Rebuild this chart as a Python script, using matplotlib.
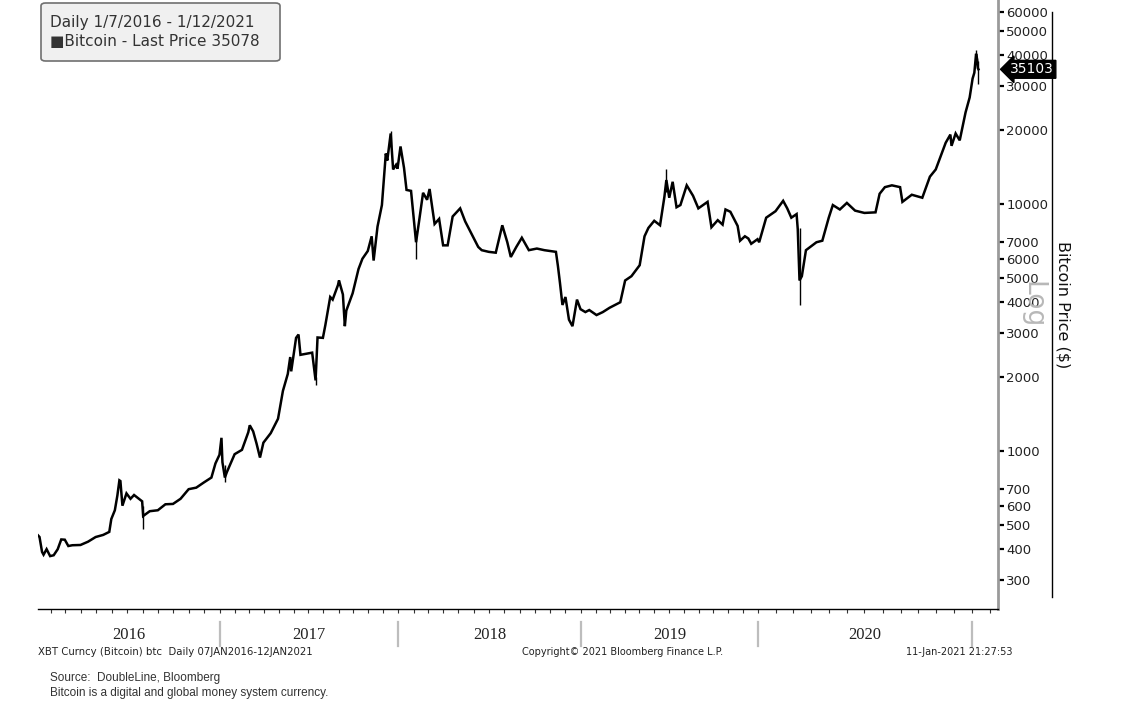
import matplotlib
matplotlib.use("Agg")
import matplotlib.pyplot as plt
import matplotlib.dates as mdates
import matplotlib.transforms as mtrans
from matplotlib.lines import Line2D
from matplotlib.patches import FancyBboxPatch
import numpy as np

# Bitcoin closes (roughly semi-monthly, more around big moves)
dates = [
    "2016-01-07", "2016-01-10", "2016-01-15", "2016-01-18", "2016-01-24", "2016-01-31",
    "2016-02-07", "2016-02-15", "2016-02-22", "2016-02-29", "2016-03-07", "2016-03-15",
    "2016-03-31", "2016-04-15", "2016-04-30", "2016-05-15", "2016-05-27", "2016-05-31",
    "2016-06-07", "2016-06-12", "2016-06-16", "2016-06-18", "2016-06-22", "2016-06-30",
    "2016-07-08", "2016-07-15", "2016-07-31", "2016-08-02", "2016-08-15", "2016-08-31",
    "2016-09-15", "2016-09-30", "2016-10-15", "2016-10-31", "2016-11-15", "2016-11-30",
    "2016-12-15", "2016-12-23", "2016-12-31",
    "2017-01-04", "2017-01-06", "2017-01-11", "2017-01-15", "2017-01-31", "2017-02-15",
    "2017-02-28", "2017-03-03", "2017-03-10", "2017-03-17", "2017-03-24", "2017-03-31",
    "2017-04-15", "2017-04-30", "2017-05-10", "2017-05-20", "2017-05-25", "2017-05-27",
    "2017-06-06", "2017-06-11", "2017-06-15", "2017-06-30", "2017-07-09", "2017-07-16",
    "2017-07-20", "2017-07-31", "2017-08-05", "2017-08-15", "2017-08-20", "2017-08-31",
    "2017-09-02", "2017-09-10", "2017-09-14", "2017-09-17", "2017-09-30", "2017-10-12",
    "2017-10-20", "2017-10-31", "2017-11-08", "2017-11-12", "2017-11-20", "2017-11-29",
    "2017-12-07", "2017-12-10", "2017-12-17", "2017-12-22", "2017-12-28", "2017-12-31",
    "2018-01-06", "2018-01-13", "2018-01-18", "2018-01-27", "2018-02-06", "2018-02-12",
    "2018-02-20", "2018-02-28", "2018-03-05", "2018-03-15", "2018-03-24", "2018-04-01",
    "2018-04-10", "2018-04-20", "2018-05-05", "2018-05-15", "2018-05-30", "2018-06-10",
    "2018-06-17", "2018-07-01", "2018-07-15", "2018-07-28", "2018-08-07", "2018-08-14",
    "2018-08-25", "2018-09-05", "2018-09-19", "2018-10-05", "2018-10-20", "2018-11-12",
    "2018-11-16", "2018-11-20", "2018-11-25", "2018-12-01", "2018-12-08", "2018-12-15",
    "2018-12-24", "2018-12-31",
    "2019-01-10", "2019-01-18", "2019-02-02", "2019-02-15", "2019-03-01", "2019-03-23",
    "2019-04-02", "2019-04-15", "2019-05-02", "2019-05-12", "2019-05-20", "2019-06-01",
    "2019-06-13", "2019-06-22", "2019-06-26", "2019-07-02", "2019-07-09", "2019-07-17",
    "2019-07-25", "2019-08-07", "2019-08-20", "2019-08-31", "2019-09-19", "2019-09-27",
    "2019-10-10", "2019-10-20", "2019-10-26", "2019-11-05", "2019-11-20", "2019-11-25",
    "2019-12-05", "2019-12-12", "2019-12-18", "2019-12-31",
    "2020-01-03", "2020-01-15", "2020-01-31", "2020-02-13", "2020-02-20", "2020-02-27",
    "2020-03-07", "2020-03-09", "2020-03-12", "2020-03-16", "2020-03-23", "2020-04-10",
    "2020-04-20", "2020-05-01", "2020-05-08", "2020-05-20", "2020-06-01", "2020-06-15",
    "2020-07-01", "2020-07-20", "2020-07-27", "2020-08-05", "2020-08-17", "2020-08-31",
    "2020-09-04", "2020-09-20", "2020-10-08", "2020-10-21", "2020-10-31", "2020-11-08",
    "2020-11-17", "2020-11-25", "2020-11-27", "2020-12-04", "2020-12-11", "2020-12-16",
    "2020-12-21", "2020-12-28", "2021-01-02", "2021-01-05", "2021-01-08", "2021-01-10",
    "2021-01-11", "2021-01-12",
]
closes = [
    455, 448, 390, 380, 400, 375,
    378, 400, 438, 437, 412, 415,
    416, 429, 448, 457, 470, 530,
    575, 660, 760, 755, 600, 673,
    640, 663, 625, 545, 570, 575,
    608, 610, 640, 700, 710, 745,
    780, 890, 965,
    1130, 900, 780, 820, 970, 1010,
    1190, 1270, 1200, 1070, 940, 1080,
    1180, 1350, 1750, 2050, 2400, 2100,
    2870, 2960, 2450, 2480, 2500, 1930,
    2880, 2870, 3230, 4200, 4100, 4700,
    4900, 4300, 3200, 3700, 4350, 5450,
    6000, 6450, 7400, 5900, 8100, 9900,
    16000, 15000, 19300, 13800, 14400, 13900,
    17100, 14000, 11400, 11300, 7000, 8500,
    11100, 10400, 11500, 8300, 8700, 6800,
    6800, 8900, 9600, 8500, 7400, 6700,
    6500, 6400, 6350, 8200, 7000, 6100,
    6700, 7300, 6500, 6600, 6500, 6400,
    5600, 4800, 3900, 4200, 3400, 3200,
    4100, 3750,
    3650, 3720, 3550, 3650, 3800, 4000,
    4900, 5100, 5650, 7400, 8000, 8550,
    8200, 10700, 12500, 10600, 12300, 9700,
    9900, 11900, 10800, 9600, 10200, 8050,
    8600, 8250, 9500, 9300, 8150, 7100,
    7400, 7250, 6900, 7200,
    7000, 8800, 9350, 10300, 9600, 8800,
    9100, 7900, 4900, 5100, 6500, 7000,
    7100, 8800, 9900, 9500, 10100, 9400,
    9200, 9250, 11000, 11700, 11900, 11700,
    10200, 10900, 10600, 12900, 13800, 15500,
    17700, 19100, 17200, 19300, 18100, 20600,
    23500, 27000, 32200, 34000, 40600, 38300,
    35500, 35100,
]

# intraday extremes (wicks) that stick out of the closes
wick_dates = ["2016-08-02", "2017-01-11", "2017-07-16", "2017-12-17", "2018-02-06",
              "2019-06-26", "2020-03-12", "2021-01-08", "2021-01-11"]
wick_lo = [485, 750, 1850, 17000, 6000, 11200, 3900, 38000, 30500]
wick_hi = [600, 880, 2000, 19700, 7800, 13900, 8000, 42000, 38000]

yticks = [300, 400, 500, 600, 700, 1000, 2000, 3000, 4000, 5000, 6000, 7000,
          10000, 20000, 30000, 40000, 50000, 60000]
years = [2016, 2017, 2018, 2019, 2020]
last_tag = 35103

# x axis is not linear in time on the original (2020 has more bars per month)
anchor_dates = ["2015-12-01", "2016-01-07", "2017-01-01", "2018-01-01",
                "2019-01-01", "2020-01-01", "2021-01-01", "2021-03-01"]
anchor_px = [19.3, 38, 220, 398, 581, 758, 972, 1006.5]


def dnum(s):
    return mdates.date2num(np.array(s, dtype="datetime64[D]"))


A_D = dnum(anchor_dates)
A_P = np.array(anchor_px)


def fwd(x):
    return np.interp(x, A_D, A_P)


def inv(p):
    return np.interp(p, A_P, A_D)


W, H = 1148, 711
fig = plt.figure(figsize=(W / 100, H / 100), dpi=100)
ax = fig.add_axes([38 / W, (H - 609) / H, (998 - 38) / W, 609 / H])

ax.set_xscale("function", functions=(fwd, inv))
ax.set_yscale("log")

x = dnum(dates)
ax.plot(x, closes, color="black", lw=1.8, solid_joinstyle="miter")
ax.vlines(dnum(wick_dates), wick_lo, wick_hi, color="black", lw=1.0)

ax.set_xlim(dnum("2016-01-07"), inv(998))
ax.set_ylim(229, 67000)

# right hand price axis
ax.yaxis.tick_right()
ax.set_yticks(yticks)
ax.set_yticklabels([str(v) for v in yticks])
ax.yaxis.set_minor_locator(matplotlib.ticker.NullLocator())
ax.tick_params(axis="y", which="major", direction="out", length=4, width=1.6,
               pad=2, labelsize=9.5, colors="black", labelcolor="#222222")

for s in ("left", "top"):
    ax.spines[s].set_visible(False)
ax.spines["right"].set_color("#9a9a9a")
ax.spines["right"].set_linewidth(2)
ax.spines["bottom"].set_linewidth(1)

# monthly ticks on the bottom
months = np.arange(np.datetime64("2016-02"), np.datetime64("2021-03"), np.timedelta64(1, "M"))
ax.set_xticks(mdates.date2num(months.astype("datetime64[D]")))
ax.set_xticklabels([])
ax.xaxis.set_minor_locator(matplotlib.ticker.NullLocator())
ax.tick_params(axis="x", direction="out", length=3, width=0.8, colors="#333333")

# year separators and year labels
blend = mtrans.blended_transform_factory(ax.transData, ax.transAxes)
for y in years[1:] + [2021]:
    xd = dnum(f"{y}-01-01")
    ax.add_line(Line2D([xd, xd], [-0.021, -0.060], transform=blend, color="#bdbdbd",
                       lw=1.6, clip_on=False))
for y in years:
    lo = max(fwd(dnum(f"{y}-01-01")), 38)
    hi = fwd(dnum(f"{y + 1}-01-01"))
    ax.text(inv(0.5 * (lo + hi)), -0.042, str(y), transform=blend, ha="center",
            va="center", fontsize=12, family="Liberation Serif", color="#222222")

# last price tag, sitting on the spine and covering the labels behind it
ax.text(1.0125, last_tag, str(last_tag),
        transform=mtrans.blended_transform_factory(ax.transAxes, ax.transData),
        ha="left", va="center", color="white", fontsize=10, zorder=10,
        bbox=dict(boxstyle="larrow,pad=0.14", fc="black", ec="black"))

# "Log" watermark and axis title
fig.text(1032 / W, 1 - 305 / H, "Log", rotation=270, fontsize=19, color="#b8b8b8",
         ha="center", va="center", zorder=0)
fig.text(1063 / W, 1 - 305 / H, "Bitcoin Price ($)", rotation=270, fontsize=11.5,
         color="#111111", ha="center", va="center")
fig.add_artist(Line2D([1052 / W, 1052 / W], [1 - 12 / H, 1 - 597 / H], color="black", lw=1))

# header box
fig.add_artist(FancyBboxPatch((41 / W, 1 - 61 / H), 239 / W, 58 / H,
                              boxstyle="round,pad=0,rounding_size=0.004",
                              fc="#f0f0f0", ec="#707070", lw=1.2))
fig.text(50 / W, 1 - 22 / H, "Daily 1/7/2016 - 1/12/2021", fontsize=11,
         color="#333333", va="center")
fig.text(50 / W, 1 - 42 / H, "\u25a0Bitcoin - Last Price 35078", fontsize=11,
         color="#333333", va="center")

# footer
fig.text(38 / W, 1 - 652 / H, "XBT Curncy (Bitcoin) btc  Daily 07JAN2016-12JAN2021",
         fontsize=7.3, color="#222222", va="center")
fig.text(623 / W, 1 - 652 / H, "Copyright\u00a9 2021 Bloomberg Finance L.P.",
         fontsize=7.0, color="#222222", va="center", ha="center")
fig.text(1013 / W, 1 - 652 / H, "11-Jan-2021 21:27:53", fontsize=7.0,
         color="#222222", va="center", ha="right")
fig.text(50 / W, 1 - 678 / H, "Source:  DoubleLine, Bloomberg", fontsize=8.5,
         family="Liberation Sans", color="#333333", va="center")
fig.text(50 / W, 1 - 693 / H, "Bitcoin is a digital and global money system currency.",
         fontsize=8.5, family="Liberation Sans", color="#333333", va="center")

fig.savefig("out.png", dpi=100)
